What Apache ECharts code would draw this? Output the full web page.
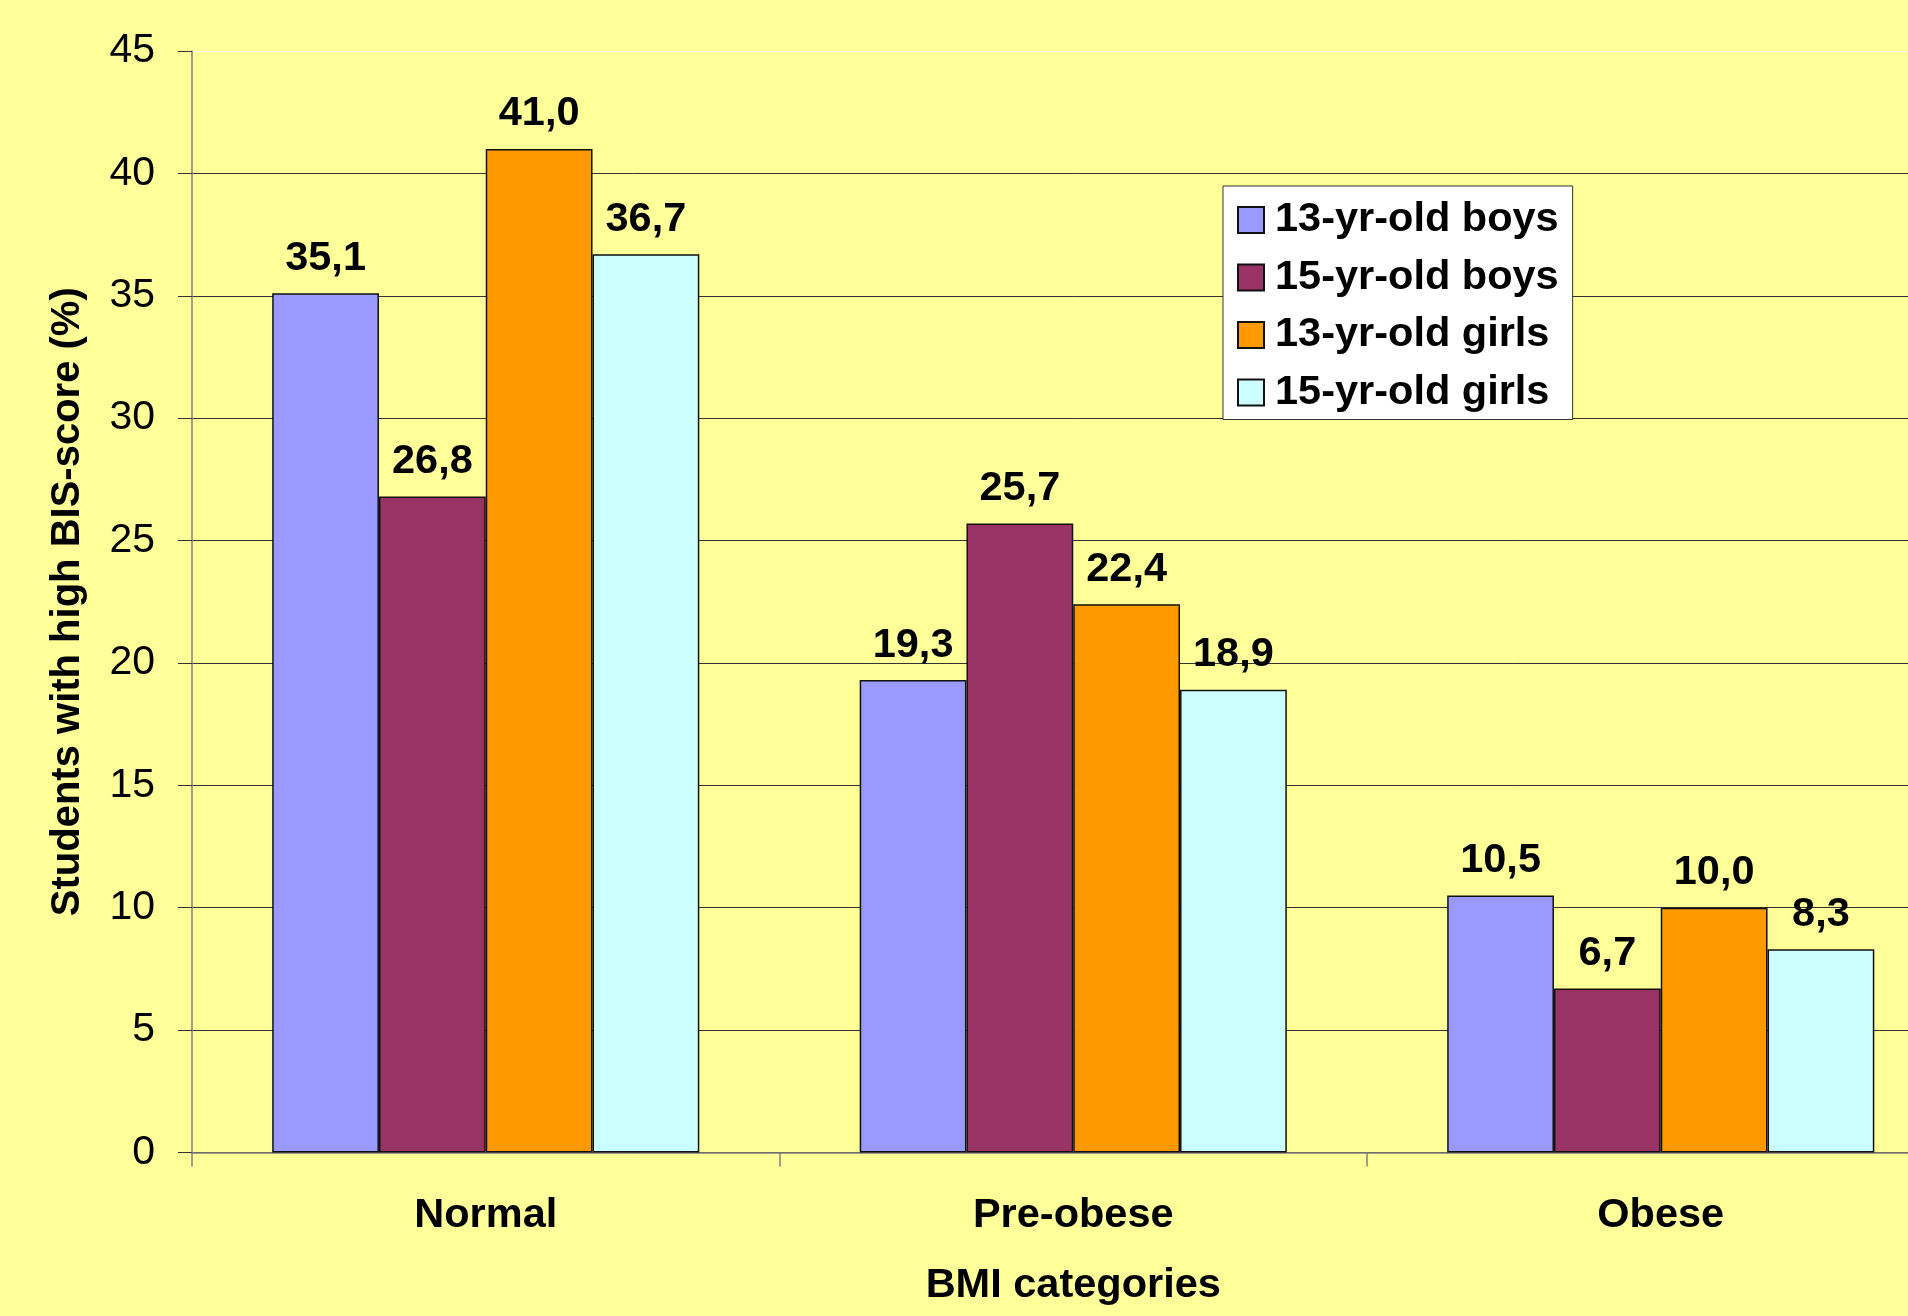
<!DOCTYPE html>
<html>
<head>
<meta charset="utf-8">
<title>Students with high BIS-score by BMI category</title>
<script src="https://cdn.jsdelivr.net/npm/echarts@6/dist/echarts.min.js"></script>
<style>
  html, body { margin: 0; padding: 0; background: #FFFF99; overflow: hidden; width: 1908px; height: 1316px; }
  /* the plot area runs on past the right edge of the page */
  #chart { width: 1955px; height: 1316px; }
</style>
</head>
<body>
<div id="chart"></div>
<script>
// BMI categories on the x axis
const categories = ['Normal', 'Pre-obese', 'Obese'];

// Share of students with a high BIS-score (%), per group
const boys13 = [35.1, 19.3, 10.5];
const boys15 = [26.8, 25.7, 6.7];
const girls13 = [41.0, 22.4, 10.0];
const girls15 = [36.7, 18.9, 8.3];

const seriesNames = ['13-yr-old boys', '15-yr-old boys', '13-yr-old girls', '15-yr-old girls'];
const seriesColors = ['#9999FF', '#993366', '#FF9900', '#CCFFFF'];
const seriesValues = [boys13, boys15, girls13, girls15];

const FONT = 'Liberation Sans, Arial, sans-serif';

// Gridline colours from 0 up to 45; the top line is the light plot border
const gridColors = ['#333', '#333', '#333', '#333', '#333', '#333', '#333', '#333', '#333', '#ffffff'];

const chart = echarts.init(document.getElementById('chart'), null, { renderer: 'canvas' });

chart.setOption({
  backgroundColor: '#FFFF99',
  animation: false,
  textStyle: { fontFamily: FONT },
  grid: { left: 192, top: 51, width: 1762.5, height: 1101.5, containLabel: false },
  legend: {
    orient: 'vertical',
    left: 1223,
    top: 186,
    data: seriesNames,
    backgroundColor: '#ffffff',
    borderColor: '#333',
    borderWidth: 1,
    padding: [13, 14, 6, 14],
    itemWidth: 26,
    itemHeight: 26,
    itemGap: 15.5,
    icon: 'rect',
    textStyle: { fontSize: 41.5, fontWeight: 'bold', color: '#000', fontFamily: FONT, lineHeight: 40, padding: [0, 0, 0, 6] }
  },
  xAxis: {
    type: 'category',
    data: categories,
    boundaryGap: true,
    name: 'BMI categories',
    nameLocation: 'middle',
    nameGap: 112,
    nameTextStyle: { fontSize: 41.5, fontWeight: 'bold', color: '#000', fontFamily: FONT },
    axisLine: { lineStyle: { color: '#808080', width: 1.5 } },
    axisTick: { show: true, length: 14, lineStyle: { color: '#808080', width: 1.5 } },
    axisLabel: { fontSize: 41.5, fontWeight: 'bold', color: '#000', margin: 42, fontFamily: FONT },
    splitLine: { show: false }
  },
  yAxis: {
    type: 'value',
    min: 0,
    max: 45,
    interval: 5,
    name: 'Students with high BIS-score (%)',
    nameLocation: 'middle',
    nameGap: 104,
    nameRotate: 90,
    nameTextStyle: { fontSize: 40, fontWeight: 'bold', color: '#000', fontFamily: FONT },
    axisLine: { show: true, lineStyle: { color: '#808080', width: 1.5 } },
    axisTick: { show: true, length: 14, lineStyle: { color: '#333', width: 1 } },
    axisLabel: { fontSize: 41, color: '#000', margin: 37, fontFamily: FONT },
    splitLine: { show: true, lineStyle: { color: gridColors, width: 1 } }
  },
  series: seriesValues.map((vals, i) => ({
    name: seriesNames[i],
    type: 'bar',
    data: vals,
    barGap: '0%',
    barCategoryGap: '27.3%',
    itemStyle: { color: seriesColors[i], borderColor: '#111', borderWidth: 1.5 },
    label: {
      show: true,
      position: 'top',
      distance: 14,
      fontSize: 41.5,
      fontWeight: 'bold',
      color: '#000',
      fontFamily: FONT,
      formatter: p => p.value.toFixed(1).replace('.', ',')
    }
  }))
});
</script>
</body>
</html>
